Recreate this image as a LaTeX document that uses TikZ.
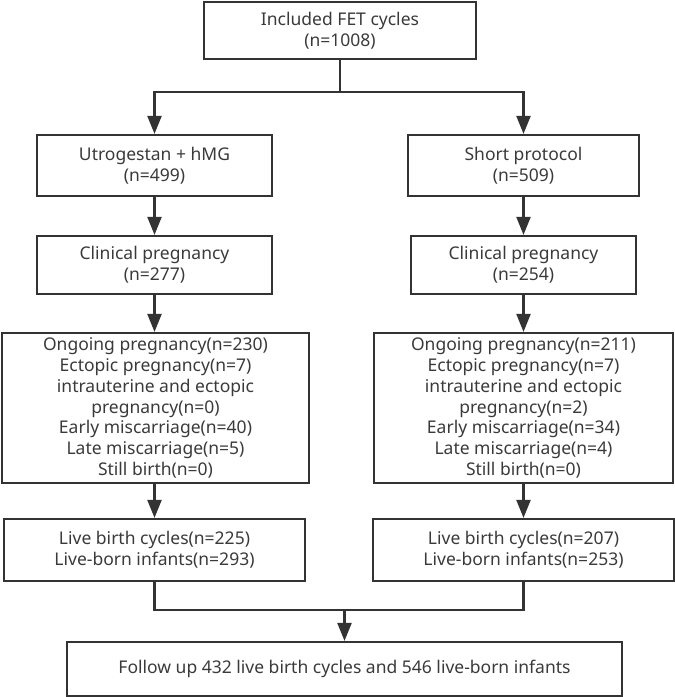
\documentclass[tikz,border=0pt]{standalone}
\usepackage{fontspec}
\setmainfont{Noto Sans}
\usetikzlibrary{arrows.meta}
\definecolor{ink}{HTML}{333333}
\definecolor{txt}{HTML}{3A3A3A}
\begin{document}
\begin{tikzpicture}[x=1pt,y=-1pt,
  box/.style={draw=ink,line width=2.2pt,rectangle,inner sep=0pt,align=center,text=txt,
    font=\fontsize{17.5}{20.8}\selectfont},
  conn/.style={draw=ink,line width=2.2pt},
  arr/.style={conn,-{Triangle[length=18pt,width=14pt]}}]
\useasboundingbox (0,0) rectangle (675,697);
\node[box,minimum width=272pt,minimum height=57pt] (top) at (340,30.5) {Included FET cycles\\(n=1008)};
\node[box,minimum width=235pt,minimum height=61pt] (L2) at (154.5,165.5) {Utrogestan + hMG\\(n=499)};
\node[box,minimum width=231pt,minimum height=61pt] (R2) at (523.5,165.5) {Short protocol\\(n=509)};
\node[box,minimum width=235pt,minimum height=58pt] (L3) at (154.5,265) {Clinical pregnancy\\(n=277)};
\node[box,minimum width=225pt,minimum height=58pt] (R3) at (523.5,265) {Clinical pregnancy\\(n=254)};
\node[box,minimum width=307pt,minimum height=150pt] (L4) at (155.5,408) {Ongoing pregnancy(n=230)\\Ectopic pregnancy(n=7)\\intrauterine and ectopic\\pregnancy(n=0)\\Early miscarriage(n=40)\\Late miscarriage(n=5)\\Still birth(n=0)};
\node[box,minimum width=299pt,minimum height=150pt] (R4) at (523.5,408) {Ongoing pregnancy(n=211)\\Ectopic pregnancy(n=7)\\intrauterine and ectopic\\pregnancy(n=2)\\Early miscarriage(n=34)\\Late miscarriage(n=4)\\Still birth(n=0)};
\node[box,minimum width=301pt,minimum height=62pt] (L5) at (154.5,550) {Live birth cycles(n=225)\\Live-born infants(n=293)};
\node[box,minimum width=301pt,minimum height=62pt] (R5) at (523.5,550) {Live birth cycles(n=207)\\Live-born infants(n=253)};
\node[box,minimum width=555pt,minimum height=54pt] (B6) at (344.5,669) {Follow up 432 live birth cycles and 546 live-born infants};
\coordinate (j1) at (340,92);
\coordinate (j2) at (344.5,610);
\draw[conn] (top.south) -- (j1);
\draw[arr] (j1) -| (L2.north);
\draw[arr] (j1) -| (R2.north);
\draw[arr] (L2.south) -- (L3.north);
\draw[arr] (R2.south) -- (R3.north);
\draw[arr] (L3.south) -- (L3.south |- L4.north);
\draw[arr] (R3.south) -- (R4.north);
\draw[arr] (L4.south -| L5.north) -- (L5.north);
\draw[arr] (R4.south) -- (R5.north);
\draw[conn] (L5.south) |- (j2);
\draw[conn] (R5.south) |- (j2);
\draw[arr] (j2) -- (B6.north);
\end{tikzpicture}
\end{document}
